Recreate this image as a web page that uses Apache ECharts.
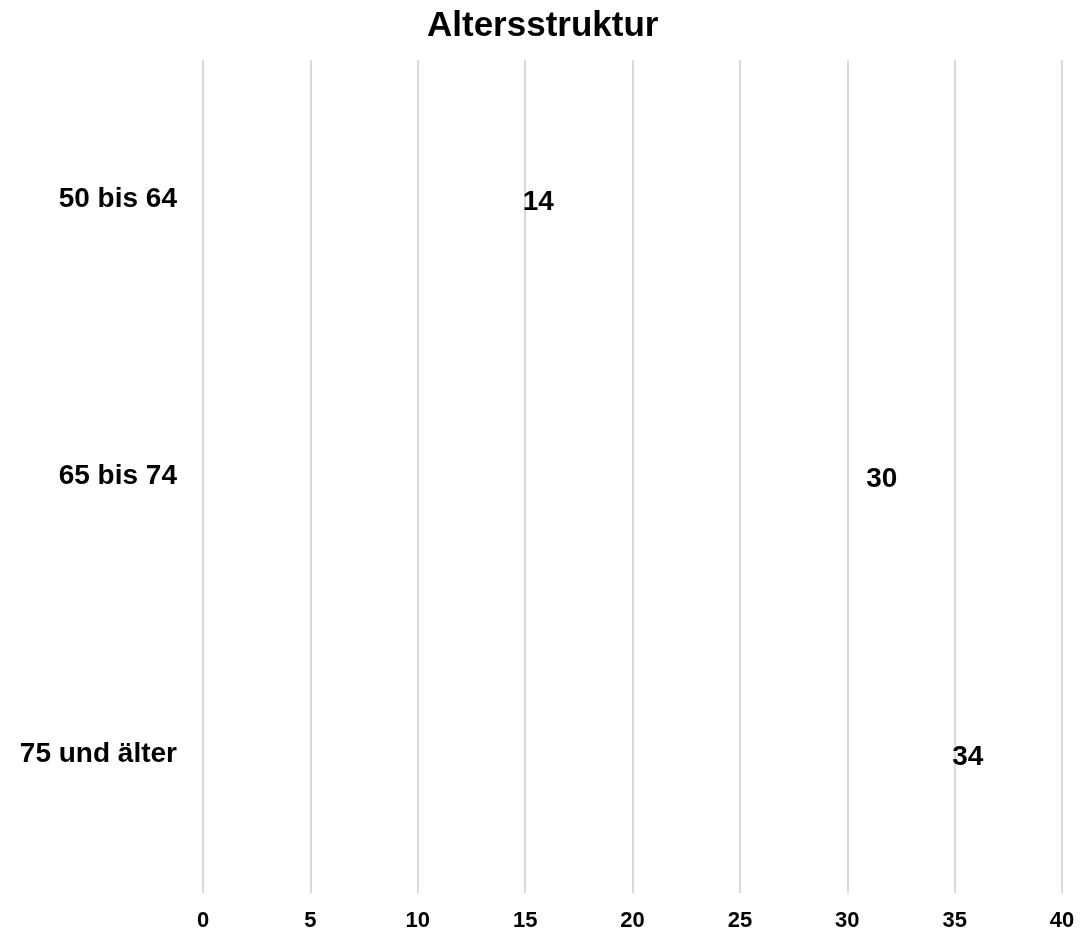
<!DOCTYPE html>
<html><head><meta charset="utf-8">
<script src="https://cdn.jsdelivr.net/npm/echarts@6/dist/echarts.min.js"></script>
<style>html,body{margin:0;padding:0;background:#fff}#c{width:1081px;height:935px}</style>
</head><body><div id="c"></div>
<script>
const categories = ['50 bis 64', '65 bis 74', '75 und älter'];
const values = [14, 30, 34];
const chart = echarts.init(document.getElementById('c'));
chart.setOption({
  backgroundColor: '#fff',
  title: { text: 'Altersstruktur', left: 422, top: 4,
    textStyle: { fontFamily: 'Liberation Sans', fontSize: 35, fontWeight: 'bold', color: '#000' } },
  grid: { left: 203, right: 19, top: 60, bottom: 42, containLabel: false },
  xAxis: { type: 'value', min: 0, max: 40, interval: 5,
    axisLine: { show: false }, axisTick: { show: false },
    splitLine: { lineStyle: { color: '#d9d9d9', width: 2 } },
    axisLabel: { margin: 17, fontFamily: 'Liberation Sans', fontSize: 22, fontWeight: 'bold', color: '#000' } },
  yAxis: { type: 'category', data: categories, inverse: true,
    axisLine: { show: false }, axisTick: { show: false },
    axisLabel: { margin: 26, fontFamily: 'Liberation Sans', fontSize: 28, fontWeight: 'bold', color: '#000', padding: [6, 0, 0, 0] } },
  series: [{ type: 'bar', data: values, barWidth: '60%',
    itemStyle: { color: 'rgba(255,255,255,0)' },
    label: { show: true, position: 'right', distance: 19, offset: [0, 3],
      fontFamily: 'Liberation Sans', fontSize: 28, fontWeight: 'bold', color: '#000' } }]
});
</script></body></html>
